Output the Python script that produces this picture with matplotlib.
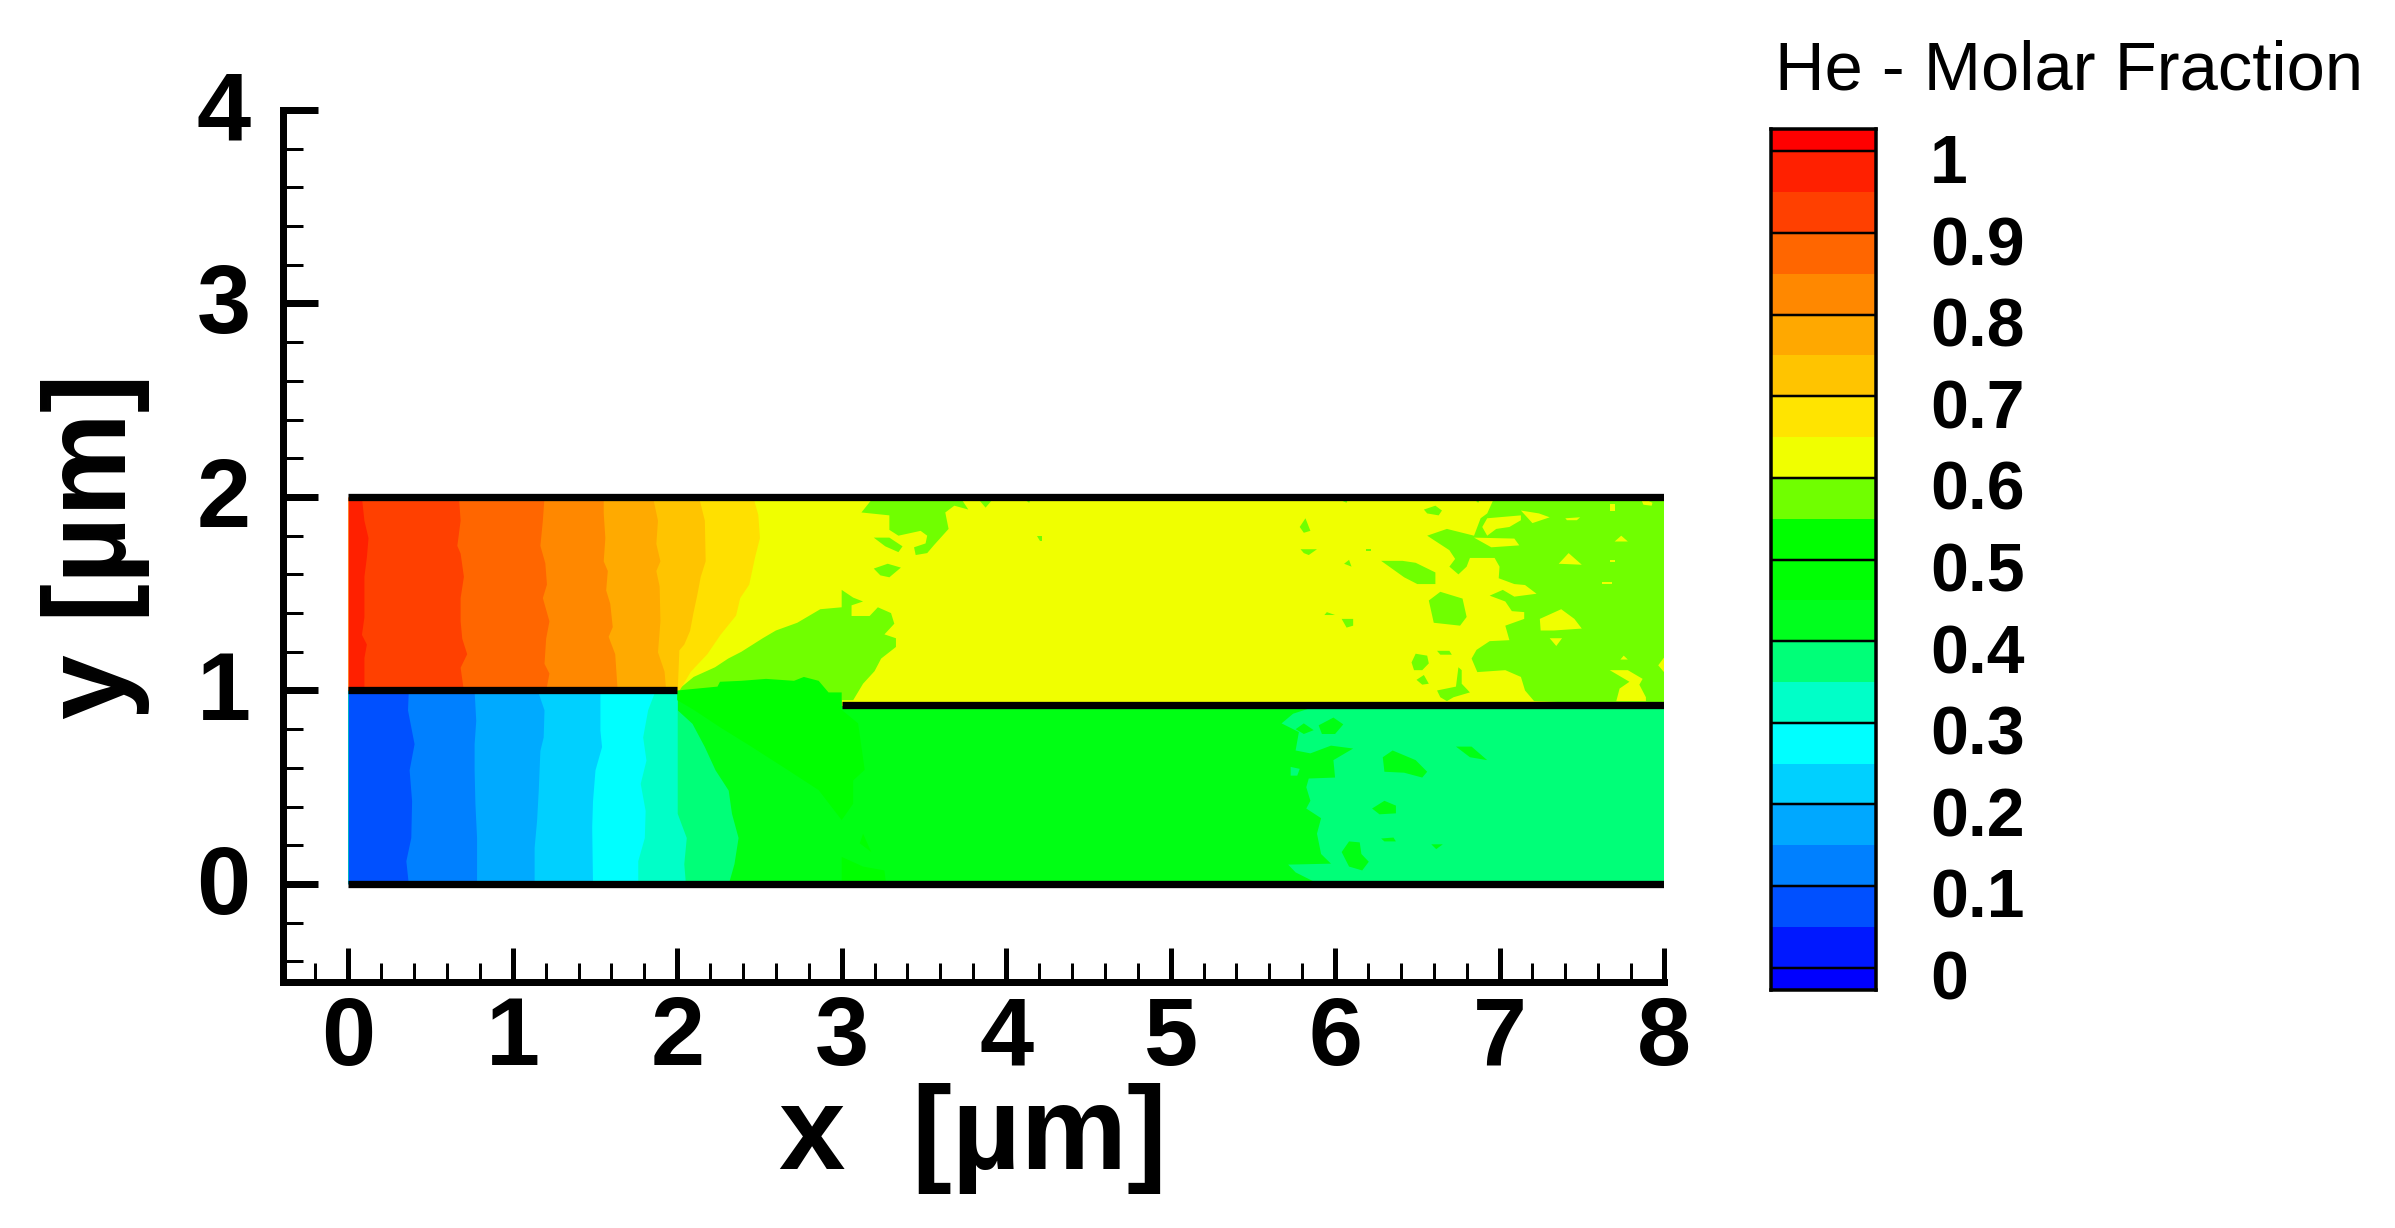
import matplotlib
matplotlib.use('Agg')
import matplotlib.pyplot as plt
from matplotlib.transforms import ScaledTranslation

plt.rcParams['font.family'] = ['Liberation Sans', 'DejaVu Sans']

W, H = 2395, 1228
LW = 72 / 100  # points per pixel at dpi 100

# colorbar levels and colours, bottom to top
cb_edges = [-0.0275, 0, 0.05, 0.1, 0.15, 0.2, 0.25, 0.3, 0.35, 0.4, 0.45, 0.5,
            0.55, 0.6, 0.65, 0.7, 0.75, 0.8, 0.85, 0.9, 0.95, 1, 1.0275]
cb_colors = ['#0000ff', '#0018ff', '#0050ff', '#0080ff', '#00a8ff', '#00d0ff', '#00ffff',
             '#00ffc8', '#00ff78', '#00ff1e', '#00ff04', '#00ff00', '#70ff00', '#f0ff00',
             '#ffe400', '#ffc400', '#ffa800', '#ff8800', '#ff6600', '#ff4000', '#ff2000', '#ff0000']
cb_ticks = [0, 0.1, 0.2, 0.3, 0.4, 0.5, 0.6, 0.7, 0.8, 0.9, 1]
cb_labels = ['0', '0.1', '0.2', '0.3', '0.4', '0.5', '0.6', '0.7', '0.8', '0.9', '1']

# upper channel: contour boundaries x(y), left to right
upper_colors = ['#ff2000', '#ff4000', '#ff6600', '#ff8800', '#ffaa00', '#ffc400', '#ffe000']
upper_ys = [
    [2.0, 1.88, 1.79, 1.69, 1.59, 1.48, 1.38, 1.29, 1.24, 1.17, 1.0],
    [2.0, 1.88, 1.75, 1.71, 1.59, 1.48, 1.36, 1.27, 1.19, 1.12, 1.0],
    [2.0, 1.88, 1.75, 1.66, 1.55, 1.48, 1.36, 1.27, 1.14, 1.09, 1.0],
    [2.0, 1.92, 1.79, 1.67, 1.62, 1.52, 1.45, 1.33, 1.28, 1.19, 1.0],
    [2.0, 1.88, 1.76, 1.67, 1.62, 1.54, 1.36, 1.20, 1.10, 1.0],
    [2.0, 1.88, 1.67, 1.59, 1.50, 1.40, 1.31, 1.24, 1.21, 1.0],
    [2.0, 1.91, 1.79, 1.69, 1.55, 1.48, 1.39, 1.29, 1.19, 1.10, 1.0],
]
upper_xs = [
    [0.08, 0.095, 0.12, 0.11, 0.095, 0.095, 0.095, 0.08, 0.11, 0.095, 0.095],
    [0.67, 0.68, 0.66, 0.68, 0.70, 0.68, 0.68, 0.69, 0.72, 0.68, 0.70],
    [1.19, 1.18, 1.165, 1.195, 1.205, 1.18, 1.22, 1.20, 1.19, 1.22, 1.20],
    [1.55, 1.55, 1.56, 1.55, 1.575, 1.565, 1.59, 1.605, 1.58, 1.62, 1.635],
    [1.85, 1.88, 1.87, 1.895, 1.87, 1.89, 1.895, 1.88, 1.92, 1.93],
    [2.13, 2.165, 2.17, 2.14, 2.12, 2.095, 2.075, 2.04, 2.01, 2.0],
    [2.46, 2.49, 2.50, 2.47, 2.435, 2.38, 2.355, 2.26, 2.18, 2.08, 2.01],
]

# lower channel: contour boundaries x(y), left to right
lower_colors = ['#0050ff', '#0080ff', '#00aaff', '#00d0ff', '#00ffff', '#00ffc8', '#00ff78']
lower_ys = [
    [1.0, 0.90, 0.725, 0.59, 0.43, 0.24, 0.12, 0],
    [1.0, 0.845, 0.725, 0.59, 0.415, 0.24, 0],
    [1.0, 0.90, 0.76, 0.69, 0.485, 0.33, 0.19, 0],
    [1.0, 0.795, 0.71, 0.59, 0.43, 0.295, 0],
    [1.0, 0.90, 0.76, 0.64, 0.52, 0.38, 0.24, 0.12, 0],
    [1.0, 0.76, 0.59, 0.365, 0.24, 0.105, 0],
    [1.0, 0.90, 0.83, 0.71, 0.59, 0.485, 0.365, 0.24, 0.105, 0],
]
lower_xs = [
    [0.365, 0.36, 0.40, 0.37, 0.385, 0.38, 0.35, 0.365],
    [0.765, 0.775, 0.765, 0.765, 0.77, 0.78, 0.78],
    [1.15, 1.19, 1.185, 1.165, 1.155, 1.145, 1.13, 1.13],
    [1.53, 1.53, 1.54, 1.50, 1.485, 1.48, 1.485],
    [1.865, 1.82, 1.79, 1.81, 1.775, 1.805, 1.80, 1.76, 1.76],
    [2.0, 2.0, 2.0, 2.0, 2.055, 2.04, 2.05],
    [2.0, 2.0, 2.09, 2.165, 2.23, 2.31, 2.33, 2.37, 2.345, 2.31],
]

upper_base = [(2, 2), (8, 2), (8, 0.92), (3, 0.92), (3, 0.95), (2, 1)]
lower_base = [(0, 0), (8, 0), (8, 0.92), (3, 0.92), (3, 1), (0, 1)]

wedge = [(2.0, 1.0), (2.10, 1.07), (2.23, 1.12), (2.31, 1.165), (2.39, 1.20), (2.52, 1.27),
         (2.60, 1.31), (2.73, 1.35), (2.87, 1.42), (3.0, 1.43), (3.0, 1.52), (3.07, 1.48),
         (3.13, 1.46), (3.06, 1.44), (3.06, 1.385), (3.17, 1.385), (3.22, 1.43), (3.30, 1.40),
         (3.32, 1.345), (3.26, 1.29), (3.33, 1.27), (3.33, 1.225), (3.24, 1.165), (3.20, 1.10),
         (3.13, 1.035), (3.07, 0.95), (3.0, 0.95)]
patch_lower = [(2.0, 1.0), (2.245, 1.02), (2.26, 1.045), (2.39, 1.05), (2.54, 1.06), (2.71, 1.05),
               (2.77, 1.07), (2.86, 1.05), (2.92, 0.99), (3.0, 0.99), (3.0, 0.90), (3.10, 0.83),
               (3.14, 0.59), (3.07, 0.535), (3.07, 0.415), (3.0, 0.33), (2.86, 0.485), (2.67, 0.59),
               (2.45, 0.71), (2.26, 0.81), (2.10, 0.90), (2.0, 0.95)]
patch_small = [
    [(3.0, 0), (3.0, 0.14), (3.13, 0.09), (3.26, 0.07), (3.27, 0)],
    [(3.13, 0.26), (3.18, 0.165), (3.11, 0.21)],
]

# lower right region, above the 0.4 level
teal_region = [(5.89, 0.92), (5.745, 0.88), (5.675, 0.83), (5.78, 0.785), (5.76, 0.69), (5.85, 0.675),
               (5.975, 0.715), (6.11, 0.70), (5.99, 0.64), (6.00, 0.55), (5.84, 0.545), (5.825, 0.50),
               (5.85, 0.43), (5.825, 0.39), (5.915, 0.34), (5.89, 0.26), (5.915, 0.155), (5.975, 0.105),
               (5.715, 0.10), (5.76, 0.06), (5.90, 0), (8, 0), (8, 0.92)]
green_islands = [
    [(5.90, 0.82), (5.99, 0.86), (6.05, 0.825), (6.00, 0.775), (5.92, 0.775)],
    [(5.76, 0.80), (5.81, 0.83), (5.87, 0.795), (5.81, 0.775)],
    [(6.29, 0.655), (6.35, 0.69), (6.49, 0.64), (6.56, 0.58), (6.53, 0.55), (6.42, 0.575), (6.30, 0.58)],
    [(6.735, 0.71), (6.83, 0.71), (6.925, 0.64), (6.82, 0.655)],
    [(6.225, 0.39), (6.30, 0.43), (6.37, 0.405), (6.37, 0.365), (6.27, 0.36)],
    [(6.28, 0.235), (6.355, 0.24), (6.37, 0.22), (6.30, 0.22)],
    [(6.585, 0.205), (6.655, 0.205), (6.615, 0.18)],
    [(6.04, 0.165), (6.085, 0.22), (6.15, 0.215), (6.16, 0.155), (6.205, 0.115), (6.165, 0.07), (6.085, 0.09)],
]
teal_islands = [[(5.73, 0.605), (5.785, 0.595), (5.77, 0.56), (5.73, 0.56)]]

# upper right region, below the 0.6 level
lime_region = [(6.97, 2.0), (6.925, 1.915), (6.885, 1.89), (6.845, 1.80), (6.68, 1.835), (6.56, 1.80),
               (6.695, 1.725), (6.73, 1.68), (6.695, 1.64), (6.75, 1.60), (6.80, 1.64), (6.82, 1.685),
               (6.97, 1.685), (7.00, 1.64), (6.995, 1.58), (7.09, 1.55), (7.155, 1.545), (7.225, 1.50),
               (7.09, 1.485), (7.02, 1.52), (6.94, 1.49), (7.035, 1.46), (7.075, 1.41), (7.15, 1.405),
               (7.15, 1.37), (7.035, 1.335), (7.06, 1.26), (6.94, 1.255), (6.86, 1.21), (6.83, 1.165),
               (6.865, 1.095), (7.035, 1.105), (7.13, 1.07), (7.155, 1.00), (7.21, 0.945), (8, 0.92), (8, 2.0)]
yellow_holes = [
    [(6.925, 1.89), (7.13, 1.905), (7.13, 1.88), (7.06, 1.845), (6.98, 1.835), (6.925, 1.80), (6.895, 1.845)],
    [(6.845, 1.79), (7.09, 1.785), (7.12, 1.75), (6.95, 1.74)],
    [(7.13, 1.93), (7.24, 1.915), (7.305, 1.895), (7.20, 1.865)],
    [(7.40, 1.89), (7.49, 1.895), (7.47, 1.88), (7.41, 1.88)],
    [(7.67, 1.965), (7.70, 1.965), (7.70, 1.93), (7.67, 1.93)],
    [(7.855, 2.0), (7.93, 1.97), (7.925, 1.955), (7.875, 1.96)],
    [(7.70, 1.77), (7.74, 1.80), (7.78, 1.77)],
    [(7.36, 1.655), (7.42, 1.71), (7.50, 1.65)],
    [(7.67, 1.675), (7.70, 1.675), (7.70, 1.665), (7.67, 1.665)],
    [(7.62, 1.56), (7.685, 1.56), (7.685, 1.55), (7.62, 1.55)],
    [(7.245, 1.37), (7.375, 1.42), (7.455, 1.37), (7.50, 1.32), (7.33, 1.31), (7.25, 1.31)],
    [(7.305, 1.27), (7.38, 1.27), (7.345, 1.23)],
    [(7.735, 1.16), (7.755, 1.18), (7.78, 1.16)],
    [(8, 1.17), (7.965, 1.13), (8, 1.095)],
    [(7.67, 1.105), (7.78, 1.105), (7.87, 1.06), (7.85, 1.03), (7.89, 0.965), (7.89, 0.945),
     (7.71, 0.945), (7.73, 1.01), (7.79, 1.045)],
]
lime_islands = [
    [(6.54, 1.935), (6.61, 1.955), (6.65, 1.93), (6.63, 1.905), (6.56, 1.915)],
    [(5.785, 1.845), (5.82, 1.89), (5.85, 1.825), (5.81, 1.815)],
    [(5.79, 1.73), (5.89, 1.73), (5.84, 1.70), (5.81, 1.71)],
    [(6.055, 1.655), (6.085, 1.675), (6.10, 1.64)],
    [(6.19, 1.73), (6.22, 1.73), (6.22, 1.72), (6.19, 1.72)],
    [(6.28, 1.67), (6.41, 1.67), (6.49, 1.66), (6.61, 1.61), (6.61, 1.55), (6.50, 1.55), (6.42, 1.585)],
    [(6.57, 1.465), (6.64, 1.51), (6.775, 1.475), (6.80, 1.38), (6.76, 1.335), (6.60, 1.35)],
    [(5.935, 1.39), (5.95, 1.405), (6.00, 1.39)],
    [(6.04, 1.37), (6.11, 1.37), (6.11, 1.335), (6.07, 1.325)],
    [(6.465, 1.145), (6.49, 1.19), (6.56, 1.18), (6.57, 1.14), (6.53, 1.105), (6.48, 1.105)],
    [(6.62, 1.205), (6.695, 1.205), (6.71, 1.185), (6.64, 1.185)],
    [(6.495, 1.055), (6.54, 1.08), (6.57, 1.035), (6.53, 1.03)],
    [(6.62, 1.0), (6.735, 1.02), (6.75, 1.12), (6.77, 1.105), (6.77, 1.035), (6.82, 0.99),
     (6.72, 0.965), (6.68, 0.945), (6.64, 0.965)],
    [(4.09, 2.0), (4.156, 2.0), (4.14, 1.97)],
    [(5.99, 2.0), (6.084, 2.0), (6.07, 1.97)],
    [(6.83, 2.0), (6.89, 2.0), (6.87, 1.97)],
    [(4.19, 1.80), (4.216, 1.80), (4.216, 1.77), (4.205, 1.77)],
    [(3.195, 2.0), (3.12, 1.92), (3.29, 1.905), (3.29, 1.83), (3.345, 1.80), (3.48, 1.825), (3.52, 1.80),
     (3.51, 1.76), (3.44, 1.74), (3.45, 1.70), (3.52, 1.71), (3.56, 1.75), (3.65, 1.835), (3.63, 1.92),
     (3.685, 1.955), (3.77, 1.935), (3.72, 2.0)],
    [(3.82, 2.0), (3.93, 2.0), (3.875, 1.945)],
    [(3.195, 1.79), (3.29, 1.79), (3.37, 1.745), (3.345, 1.715), (3.265, 1.745)],
    [(3.195, 1.63), (3.28, 1.655), (3.36, 1.635), (3.29, 1.585), (3.235, 1.595)],
]

# channel walls
wall_x = [[0, 8], [0, 2], [3, 8], [0, 8]]
wall_y = [[2, 2], [1, 1], [0.923, 0.923], [0, 0]]

YELLOW = '#f0ff00'
LIME = '#70ff00'
GREEN = '#00ff14'
GREEN2 = '#00ff00'
TEAL = '#00ff78'


def poly(ax, pts, color):
    ax.fill([p[0] for p in pts], [p[1] for p in pts], color=color, lw=0)


fig = plt.figure(figsize=(W / 100, H / 100), dpi=100)
ax = fig.add_axes([282.5 / W, 1 - 981.5 / H, (1664 - 282.5) / W, (981.5 - 110) / H])

# lower channel
poly(ax, lower_base, GREEN)
poly(ax, teal_region, TEAL)
for pts in green_islands:
    poly(ax, pts, GREEN)
for pts in teal_islands:
    poly(ax, pts, TEAL)
for i in range(6, -1, -1):
    ax.fill_betweenx(lower_ys[i], 0, lower_xs[i], color=lower_colors[i], lw=0)

# upper channel
poly(ax, upper_base, YELLOW)
poly(ax, wedge, LIME)
poly(ax, lime_region, LIME)
for pts in yellow_holes:
    poly(ax, pts, YELLOW)
for pts in lime_islands:
    poly(ax, pts, LIME)
for i in range(6, -1, -1):
    ax.fill_betweenx(upper_ys[i], 0, upper_xs[i], color=upper_colors[i], lw=0)

poly(ax, patch_lower, GREEN2)
for pts in patch_small:
    poly(ax, pts, GREEN2)

for xs, ys in zip(wall_x, wall_y):
    ax.plot(xs, ys, color='black', lw=7.3 * LW, solid_capstyle='butt')

ax.set_xlim(-0.4, 8)
ax.set_ylim(-0.504, 4)
ax.spines['top'].set_visible(False)
ax.spines['right'].set_visible(False)
ax.spines['left'].set_linewidth(7 * LW)
ax.spines['bottom'].set_linewidth(7 * LW)

ax.set_xticks(range(0, 9))
ax.set_yticks(range(0, 5))
ax.set_xticks([i * 0.2 - 0.2 for i in range(0, 42) if i % 5 != 1], minor=True)
ax.set_yticks([i * 0.2 - 0.4 for i in range(0, 23) if i % 5 != 2], minor=True)
ax.tick_params(axis='x', which='major', direction='in', length=34 * LW, width=5 * LW, pad=10,
               labelsize=70, labelfontfamily='Liberation Sans')
ax.tick_params(axis='y', which='major', direction='in', length=35 * LW, width=7 * LW, pad=23,
               labelsize=70, labelfontfamily='Liberation Sans')
ax.tick_params(axis='x', which='minor', direction='in', length=19 * LW, width=3 * LW)
ax.tick_params(axis='y', which='minor', direction='in', length=20 * LW, width=3 * LW)
for t in ax.get_xticklabels():
    t.set_fontweight('bold')
for t in ax.get_yticklabels():
    t.set_fontweight('bold')
    t.set_transform(t.get_transform() + ScaledTranslation(0, 5 / 100, fig.dpi_scale_trans))

fig.text(973 / W, 1 - 1138 / H, 'x  [\u00b5m]', fontsize=86, fontweight='bold', ha='center', va='center')
fig.text(95 / W, 1 - 546 / H, 'y [\u00b5m]', fontsize=84, fontweight='bold', rotation=90,
         ha='center', va='center')

# colorbar
cax = fig.add_axes([1771 / W, 1 - 990 / H, (1876 - 1771) / W, (990 - 129) / H])
for i, c in enumerate(cb_colors):
    cax.barh(cb_edges[i], 1, height=cb_edges[i + 1] - cb_edges[i], align='edge', color=c, lw=0)
cax.hlines(cb_ticks, 0, 1, color='black', lw=2.5 * LW)
cax.set_xlim(0, 1)
cax.set_ylim(cb_edges[0], cb_edges[-1])
cax.set_xticks([])
cax.set_yticks([])
for s in cax.spines.values():
    s.set_linewidth(3.5 * LW)
for v, lab in zip(cb_ticks, cb_labels):
    cax.annotate(lab, (1, v), xytext=(54, -14), textcoords='offset pixels', fontsize=49,
                 fontweight='bold', va='center', ha='left', annotation_clip=False)

fig.text(1775 / W, 1 - 72 / H, 'He - Molar Fraction', fontsize=49.5, ha='left', va='center')

fig.savefig('out.png', dpi=100)
